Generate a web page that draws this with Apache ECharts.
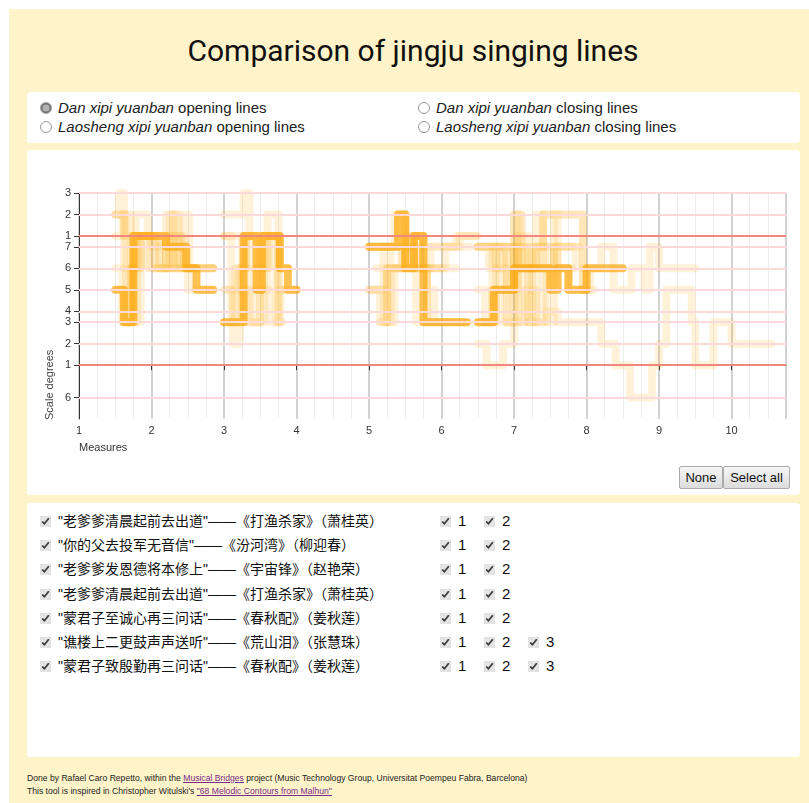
<!DOCTYPE html>
<html>
<head>
<meta charset="utf-8">
<script src="https://cdn.jsdelivr.net/npm/echarts@6/dist/echarts.min.js"></script>
<style>
  html, body { margin:0; padding:0; background:#fff; width:809px; height:803px; overflow:hidden; }
  #page { position:absolute; left:9px; top:9px; width:800px; height:794px; background:#FFF4C9; }
  .panel { position:absolute; background:#fff; border-radius:4px; }
  h1 { position:absolute; left:0; top:33px; width:826px; margin:0; text-align:center; font-family:Roboto, sans-serif; font-weight:400; font-size:30px; color:#111; }
  .radio { position:absolute; font-family:"Liberation Sans", Arial, sans-serif; font-size:15px; color:#222; white-space:nowrap; }
  .radio input { margin:0 6px 0 0; width:12px; height:12px; vertical-align:-1px; accent-color:#9a9a9a; opacity:0.75; }
  .row { position:absolute; left:40px; font-family:"Liberation Sans", "Noto Sans CJK SC", sans-serif; font-size:14px; color:#111; white-space:nowrap; height:18px; line-height:18px; }
  .row input, .num input { margin:0 7px 0 0; width:11px; height:11px; vertical-align:-1px; accent-color:#e4e4e4; }
  .num { position:absolute; top:0; font-family:"Liberation Sans", Arial, sans-serif; font-size:15px; }
  .btn { position:absolute; top:466px; height:23px; border:1px solid #aaa; background:linear-gradient(#f6f6f6,#dcdcdc); font-family:"Liberation Sans", Arial, sans-serif; font-size:13px; color:#111; line-height:21px; text-align:center; box-sizing:border-box; border-radius:2px; }
  .foot { position:absolute; left:27px; font-family:"Liberation Sans", Arial, sans-serif; font-size:8.6px; color:#222; white-space:nowrap; }
  .foot a { color:#7a2a8a; }
  #chart { position:absolute; left:27px; top:150px; width:773px; height:310px; }
</style>
</head>
<body>
<div id="page"></div>
<h1>Comparison of jingju singing lines</h1>
<div class="panel" style="left:27px; top:92px; width:773px; height:51px;"></div>
<div class="radio" style="left:40px; top:99px;"><input type="radio" name="r" checked><i>Dan xipi yuanban</i> opening lines</div>
<div class="radio" style="left:40px; top:118px;"><input type="radio" name="r"><i>Laosheng xipi yuanban</i> opening lines</div>
<div class="radio" style="left:418px; top:99px;"><input type="radio" name="r"><i>Dan xipi yuanban</i> closing lines</div>
<div class="radio" style="left:418px; top:118px;"><input type="radio" name="r"><i>Laosheng xipi yuanban</i> closing lines</div>

<div class="panel" style="left:27px; top:150px; width:773px; height:345px;"></div>
<div id="chart"></div>
<div class="btn" style="left:679px; width:44px;">None</div>
<div class="btn" style="left:723px; width:67px;">Select all</div>

<div class="panel" style="left:27px; top:503px; width:773px; height:254px;"></div>
<div id="rows"></div>

<div class="foot" style="top:773px;">Done by Rafael Caro Repetto, within the <a href="#"><u>Musical Bridges</u></a> project (Music Technology Group, Universitat Poempeu Fabra, Barcelona)</div>
<div class="foot" style="top:786px;">This tool is inspired in Christopher Witulski's <a href="#"><u>"68 Melodic Contours from Malhun"</u></a></div>

<script>
// ---------- data ----------
// pitch values are semitones above the lower tonic (scale degree 1)
const degreeValues = [-3, 0, 2, 4, 5, 7, 9, 11, 12, 14, 16];
const degreeLabels = ['6', '1', '2', '3', '4', '5', '6', '7', '1', '2', '3'];
const tonicValues = [0, 12];
const measureMin = 1;
const measureMax = 10.75;

const songTitles = [
  '"老爹爹清晨起前去出道"——《打渔杀家》（萧桂英）',
  '"你的父去投军无音信"——《汾河湾》（柳迎春）',
  '"老爹爹发恩德将本修上"——《宇宙锋》（赵艳荣）',
  '"老爹爹清晨起前去出道"——《打渔杀家》（萧桂英）',
  '"蒙君子至诚心再三问话"——《春秋配》（姜秋莲）',
  '"谯楼上二更鼓声声送听"——《荒山泪》（张慧珠）',
  '"蒙君子致殷勤再三问话"——《春秋配》（姜秋莲）'
];
const songLineCounts = [2, 2, 2, 2, 2, 3, 3];

// each line: [measure, pitch] note onsets; last point = end of last note; null pitch = rest
const s1l1 = [[1.5,7],[1.62,4],[1.75,12],[2.2,11],[2.48,9],[2.62,7],[2.75,7],[2.85,null],[3.0,4],[3.27,12],[3.45,7],[3.52,12],[3.77,9],[3.88,7],[4.0,7]];
const s1l2 = [[5.0,11],[5.4,14],[5.5,9],[5.62,12],[5.75,4],[6.25,4],[6.35,null],[6.5,4],[6.72,7],[7.0,9],[7.5,7],[7.6,9],[7.75,7],[8.0,9],[8.5,9]];
const s2l1 = [[1.5,14],[1.55,16],[1.62,9],[1.78,14],[1.95,9],[2.2,14],[2.3,9],[2.45,14],[2.52,9],[2.75,9],[2.85,null],[3.0,14],[3.27,16],[3.35,9],[3.5,12],[3.72,4],[3.78,7],[4.0,7]];
const s2l2 = [[5.0,7],[5.2,11],[5.42,14],[5.5,11],[5.6,9],[6.0,9],[6.2,null],[6.5,11],[6.9,4],[7.0,14],[7.1,9],[7.3,11],[7.5,9],[7.75,7],[8.0,7]];
const s3l1 = [[1.5,14],[1.65,4],[1.72,12],[1.98,9],[2.2,12],[2.4,9],[2.5,7],[2.7,7],[2.85,null],[3.0,12],[3.25,7],[3.3,4],[3.5,9],[3.62,12],[3.77,9],[3.9,9]];
const s3l2 = [[5.05,7],[5.15,4],[5.25,9],[5.45,11],[5.6,12],[5.75,9],[5.8,4],[6.1,4],[6.3,null],[6.5,11],[6.75,9],[6.9,4],[7.05,12],[7.2,9],[7.4,14],[7.6,9],[7.8,9]];
const s4l1 = [[1.5,9],[1.6,4],[1.7,9],[1.85,12],[2.05,9],[2.3,12],[2.45,9],[2.6,9],[2.85,null],[3.0,7],[3.12,2],[3.22,9],[3.35,4],[3.5,7],[3.62,4],[3.75,7],[3.85,7]];
const s4l2 = [[5.1,9],[5.25,4],[5.35,9],[5.6,12],[5.75,11],[6.25,12],[6.45,12],[6.5,null],[6.55,4],[6.7,11],[6.9,7],[7.05,11],[7.2,4],[7.3,11],[7.55,14],[7.95,7],[8.1,7]];
const s5l1 = [[1.52,7],[1.6,4],[1.72,9],[1.85,12],[2.1,9],[2.3,14],[2.38,9],[2.5,9],[2.85,null],[3.0,4],[3.15,9],[3.3,12],[3.45,7],[3.6,14],[3.75,7],[3.8,7]];
const s5l2 = [[5.15,4],[5.25,9],[5.5,12],[5.65,4],[5.8,9],[6.05,11],[6.25,11],[6.4,null],[6.5,7],[6.6,4],[6.75,11],[7.0,9],[7.2,4],[7.4,9],[7.55,11],[7.85,9],[8.0,9]];
const s6l1 = [[1.5,14],[1.62,12],[1.78,4],[1.85,12],[2.0,11],[2.2,9],[2.4,9],[2.85,null],[3.0,12],[3.1,4],[3.25,7],[3.4,4],[3.55,12],[3.75,4],[3.8,4]];
const s6l2 = [[5.0,11],[5.3,9],[5.45,11],[5.7,9],[5.85,11],[6.2,12],[6.45,12],[6.48,null],[6.5,11],[6.8,4],[7.0,11],[7.15,9],[7.3,14],[7.4,9],[7.6,11],[7.9,11]];
const s6l3 = [[5.0,7],[5.2,4],[5.3,9],[5.5,9],[6.0,null],[6.5,11],[6.65,9],[6.85,11],[7.05,14],[7.1,4],[7.25,11],[7.4,14],[7.95,7],[8.05,9],[8.2,11],[8.37,7],[8.62,9],[8.8,7],[8.87,11],[9.0,9],[9.5,9]];
const s7l1 = [[1.5,12],[1.6,14],[1.72,4],[1.8,12],[2.1,9],[2.25,14],[2.35,9],[2.5,9],[2.85,null],[3.05,7],[3.2,9],[3.3,12],[3.5,9],[3.6,12],[3.75,12]];
const s7l2 = [[5.05,11],[5.35,14],[5.5,9],[5.8,7],[5.9,4],[6.2,4],[6.35,null],[6.5,4],[6.7,7],[7.0,14],[7.05,9],[7.3,9],[7.45,4],[7.55,11],[7.8,11]];
const s7l3 = [[6.5,2],[6.62,0],[6.85,2],[7.0,4],[7.15,7],[7.3,4],[7.45,5],[7.6,4],[8.2,2],[8.4,0],[8.6,-3],[8.9,0],[9.0,2],[9.1,7],[9.45,4],[9.5,0],[9.75,4],[10.0,2],[10.55,2]];

const allLines = [
  ['1-1', s1l1], ['1-2', s1l2], ['2-1', s2l1], ['2-2', s2l2], ['3-1', s3l1], ['3-2', s3l2],
  ['4-1', s4l1], ['4-2', s4l2], ['5-1', s5l1], ['5-2', s5l2], ['6-1', s6l1], ['6-2', s6l2],
  ['6-3', s6l3], ['7-1', s7l1], ['7-2', s7l2], ['7-3', s7l3]
];
const emphasised = ['1-1', '1-2'];

// ---------- list of songs ----------
const rowsEl = document.getElementById('rows');
songTitles.forEach((t, i) => {
  const r = document.createElement('div');
  r.className = 'row';
  r.style.top = (512 + i * 24.2) + 'px';
  let html = '<input type="checkbox" checked>' + t;
  for (let k = 1; k <= songLineCounts[i]; k++) {
    html += '<span class="num" style="left:' + (400 + (k - 1) * 44) + 'px"><input type="checkbox" checked>' + k + '</span>';
  }
  r.innerHTML = html;
  rowsEl.appendChild(r);
});

// ---------- chart ----------
const chart = echarts.init(document.getElementById('chart'));
const labelFont = { fontFamily: '"Liberation Sans", Arial, sans-serif', fontSize: 11, color: '#333' };

const series = [{
  type: 'line', data: [], silent: true, z: 1,
  markLine: {
    symbol: 'none', silent: true, animation: false, label: { show: false },
    data: degreeValues.map(v => ({
      yAxis: v,
      lineStyle: { type: 'solid', width: 2, color: tonicValues.includes(v) ? '#F3877E' : '#FCDADA' }
    }))
  }
}];
allLines.forEach(([name, pts]) => {
  const strong = emphasised.includes(name);
  series.push({
    name: name, type: 'line', step: 'end', showSymbol: false, connectNulls: false,
    animation: false, silent: true, z: strong ? 4 : 3,
    data: pts,
    lineStyle: { width: 8, color: '#FFA500', opacity: strong ? 0.68 : 0.15, cap: 'round', join: 'round' }
  });
});

chart.setOption({
  animation: false,
  grid: { left: 52, top: 43, right: 14, bottom: 41 },
  xAxis: {
    type: 'value', min: measureMin, max: measureMax, interval: 1,
    axisLine: { lineStyle: { color: '#333', width: 1 } },
    axisTick: { length: 5, lineStyle: { color: '#333' } },
    axisLabel: Object.assign({ margin: 6, showMaxLabel: false }, labelFont),
    splitLine: { show: true, lineStyle: { color: '#D2D2D2', width: 2 } },
    minorTick: { show: false, splitNumber: 4 },
    minorSplitLine: { show: true, lineStyle: { color: '#EDEDED', width: 1 } }
  },
  yAxis: {
    type: 'value', min: -5, max: 16, interval: 1,
    axisLine: { show: true, lineStyle: { color: '#333', width: 1 } },
    axisTick: { show: true, length: 5, lineStyle: { color: '#333' }, customValues: degreeValues },
    axisLabel: Object.assign({
      margin: 8, customValues: degreeValues,
      formatter: v => { const i = degreeValues.indexOf(v); return i >= 0 ? degreeLabels[i] : ''; }
    }, labelFont),
    splitLine: { show: false }
  },
  graphic: [
    { type: 'text', left: 52, top: 292, style: { text: 'Measures', fill: '#333', font: '11px "Liberation Sans", Arial, sans-serif' } },
    { type: 'text', x: 23, y: 270, rotation: Math.PI / 2, style: { text: 'Scale degrees', fill: '#444', font: '11px "Liberation Sans", Arial, sans-serif', textAlign: 'left', textVerticalAlign: 'middle' } }
  ],
  series: series
});
</script>
</body>
</html>
